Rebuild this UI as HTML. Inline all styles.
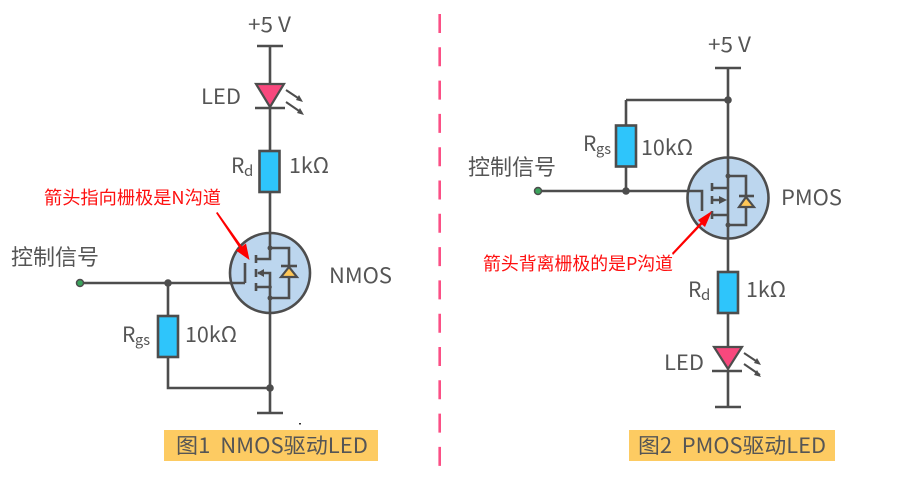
<!DOCTYPE html>
<html><head><meta charset="utf-8"><style>
html,body{margin:0;padding:0;background:#fff;width:900px;height:479px;overflow:hidden}
svg{display:block}
text{font-family:"Noto Sans CJK SC","Liberation Sans",sans-serif;fill:#555;white-space:pre}
.w{stroke:#4d4d4d;stroke-width:2.6;fill:none}
.b{stroke:#4d4d4d;stroke-width:2.6;fill:#2ec5fb}
.c{stroke:#4d4d4d;stroke-width:2.6;fill:#bcd6ee}
.r{fill:#fe0000}
.d{fill:#4d4d4d}
</style></head><body>
<svg width="900" height="479" viewBox="0 0 900 479" xmlns="http://www.w3.org/2000/svg">
<line x1="439.700" y1="14" x2="439.700" y2="466" stroke="#fb4f85" stroke-width="2.600" stroke-dasharray="19 14.300"/>

<!-- LEFT -->
<path class="w" d="M257 46H283M270 46V84M270 108V150M270 192V233M270 313V413M257 413H283M80 283H245V263M168 283V316M168 358V388H270"/>
<circle class="c" cx="270" cy="273" r="40"/>
<path class="w" d="M270 233V248M270 298V313M245 283H230M245 283V263"/>
<path class="w" d="M256 255V263M256 259H270V248H289V298H270V287H256M256 283V291M256 269V277M258 273H270V298"/>
<path class="d" d="M257 273L264 269V277Z"/>
<circle class="d" cx="270" cy="248" r="2.500"/><circle class="d" cx="270" cy="298" r="2.500"/><circle class="d" cx="270" cy="287" r="1.800"/>
<path d="M289 267L281 277H297Z" fill="#ffc757" stroke="#4d4d4d" stroke-width="2.200"/>
<path class="w" d="M281 266H297"/>
<path d="M256 84H284L270 107Z" fill="#f8487d" stroke="#4d4d4d" stroke-width="2.200"/>
<path class="w" d="M255 108H285"/>
<path d="M286 90L301 100M286 102L302 113" stroke="#4d4d4d" stroke-width="2" fill="none"/>
<path class="d" d="M303 102L296 100L299 95ZM304 115L297 113L300 108Z"/>
<rect class="b" x="259.500" y="151" width="20" height="41"/>
<rect class="b" x="158" y="316" width="20" height="41"/>
<circle cx="80" cy="283" r="3.500" fill="#3aa35c" stroke="#4d4d4d" stroke-width="1.500"/>
<circle class="d" cx="168" cy="283" r="3.800"/><circle class="d" cx="270" cy="388" r="3.800"/>
<rect x="299" y="423" width="2" height="1.500" fill="#333"/>

<text x="248" y="32" font-size="21" textLength="43" lengthAdjust="spacingAndGlyphs">+5 V</text>
<text x="201" y="104" font-size="21" textLength="40" lengthAdjust="spacingAndGlyphs">LED</text>
<text x="231" y="173" font-size="21">R</text><text x="244" y="176" font-size="15">d</text>
<text x="289" y="173" font-size="21" textLength="40" lengthAdjust="spacingAndGlyphs">1kΩ</text>
<text x="329" y="283" font-size="21" textLength="63" lengthAdjust="spacingAndGlyphs">NMOS</text>
<text x="11" y="265" font-size="22" textLength="88" lengthAdjust="spacingAndGlyphs">控制信号</text>
<text x="122" y="342" font-size="21">R</text><text x="135" y="345" font-size="15" textLength="15" lengthAdjust="spacingAndGlyphs">gs</text>
<text x="185" y="342" font-size="21" textLength="52" lengthAdjust="spacingAndGlyphs">10kΩ</text>
<text x="44" y="204" font-size="18" style="fill:#fe1010" textLength="177" lengthAdjust="spacingAndGlyphs">箭头指向栅极是N沟道</text>
<path class="r" d="M216 213L217.500 212L242 246.500L246 243.500L249.500 260L236 250.500L239.500 248Z"/>
<rect x="164" y="430" width="214" height="31" fill="#fdcb62"/>
<text x="176" y="453" font-size="21" textLength="192" lengthAdjust="spacingAndGlyphs">图1  NMOS驱动LED</text>

<!-- RIGHT -->
<path class="w" d="M715 68H741M728 68V158M728 238V271M728 313V347M728 370V407M715 407H741M626 100H728M626 100V125M626 166V191M536 191H688"/>
<circle class="c" cx="728" cy="198" r="40.500"/>
<path class="w" d="M728 158V176M728 225V238M688 191H702V211"/>
<path class="w" d="M712 183V191M712 188H728V176H746V225H728V215H712M712 211V219M712 196V204M712 200H722M728 176V225"/>
<path class="d" d="M727 200L719 196V204Z"/>
<circle class="d" cx="728" cy="176" r="2.500"/><circle class="d" cx="728" cy="225" r="2.500"/>
<path d="M746 197L739 207H754Z" fill="#ffc757" stroke="#4d4d4d" stroke-width="2.200"/>
<path class="w" d="M739 196H754"/>
<path d="M714 347H742L728 369Z" fill="#f8487d" stroke="#4d4d4d" stroke-width="2.200"/>
<path class="w" d="M712 371H742"/>
<path d="M744 353L759 363M744 364L760 375" stroke="#4d4d4d" stroke-width="2" fill="none"/>
<path class="d" d="M761 365L754 363L757 358ZM761 377L754 375L757 370Z"/>
<rect class="b" x="616" y="125.500" width="20" height="41"/>
<rect class="b" x="718" y="272" width="20" height="41"/>
<circle cx="538" cy="191" r="3.500" fill="#3aa35c" stroke="#4d4d4d" stroke-width="1.500"/>
<circle class="d" cx="626" cy="191" r="3.800"/><circle class="d" cx="728" cy="100" r="3.800"/>

<text x="708" y="52" font-size="21" textLength="43" lengthAdjust="spacingAndGlyphs">+5 V</text>
<text x="664" y="370" font-size="21" textLength="40" lengthAdjust="spacingAndGlyphs">LED</text>
<text x="688" y="297" font-size="21">R</text><text x="701" y="300" font-size="15">d</text>
<text x="746" y="297" font-size="21" textLength="40" lengthAdjust="spacingAndGlyphs">1kΩ</text>
<text x="781" y="205" font-size="21" textLength="61" lengthAdjust="spacingAndGlyphs">PMOS</text>
<text x="468" y="175" font-size="22" textLength="88" lengthAdjust="spacingAndGlyphs">控制信号</text>
<text x="583" y="151" font-size="21">R</text><text x="596" y="154" font-size="15" textLength="15" lengthAdjust="spacingAndGlyphs">gs</text>
<text x="641" y="155" font-size="21" textLength="52" lengthAdjust="spacingAndGlyphs">10kΩ</text>
<text x="483" y="270" font-size="18" style="fill:#fe1010" textLength="190" lengthAdjust="spacingAndGlyphs">箭头背离栅极的是P沟道</text>
<path class="r" d="M672 253L673 255L702 224.500L705 227L712 211L698 220L700.500 222.500Z"/>
<rect x="629" y="430" width="206" height="31" fill="#fdcb62"/>
<text x="638" y="453" font-size="21" textLength="188" lengthAdjust="spacingAndGlyphs">图2  PMOS驱动LED</text>
</svg>
</body></html>
